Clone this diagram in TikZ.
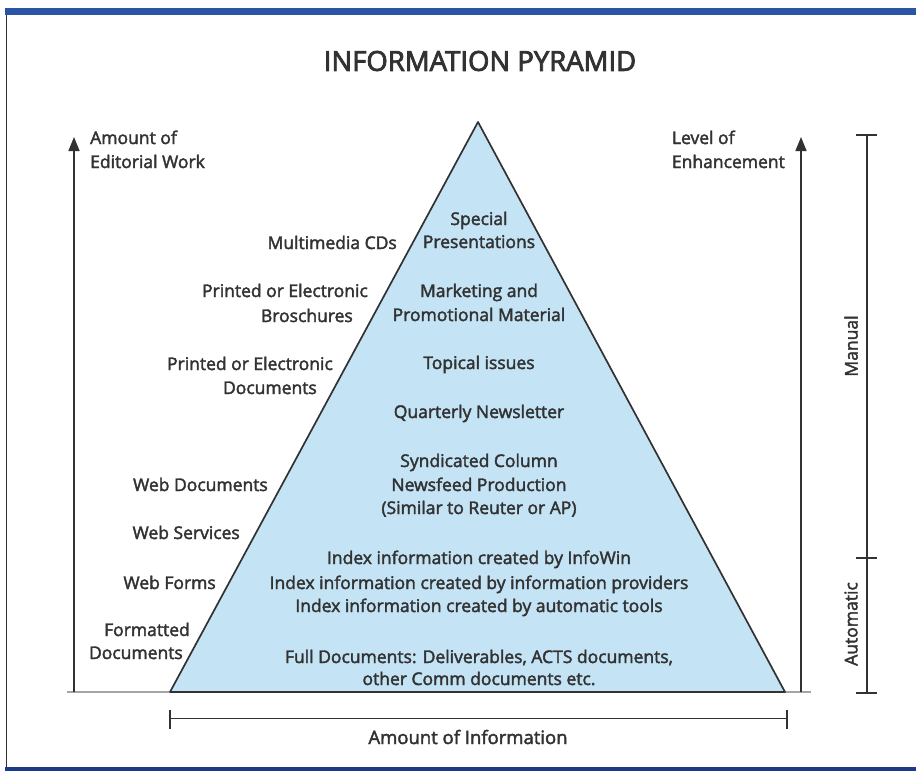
\documentclass[tikz,border=0pt]{standalone}
\usepackage{fontspec}
\setmainfont{Open Sans}
\newfontfamily\semifont[FakeBold=2.2]{Open Sans}
\newfontfamily\titfont[FakeBold=3]{Open Sans}
\usetikzlibrary{arrows.meta}
\definecolor{ink}{RGB}{50,50,50}
\definecolor{pyr}{RGB}{196,228,246}
\definecolor{barblue}{RGB}{44,84,164}
\definecolor{barblue2}{RGB}{28,58,138}
\definecolor{baseg}{RGB}{165,165,165}
\tikzset{
  lbl/.style={font=\semifont\fontsize{17.5}{21}\selectfont, text=ink, inner sep=0pt},
  inl/.style={lbl, anchor=base},
  lft/.style={lbl, anchor=base east},
  arr/.style={draw=ink, line width=1.6pt, -{Triangle[width=11pt,length=14pt]}},
  brk/.style={draw=ink, line width=1.6pt},
}
\begin{document}
\begin{tikzpicture}[x=1pt,y=-1pt]
\useasboundingbox (0,0) rectangle (916,771);
\fill[white] (0,0) rectangle (916,771);
% frame bars
\fill[barblue] (5,8) rectangle (916,15);
\fill[barblue2] (5,767) rectangle (916,771);
\draw[ink, line width=1pt] (6,15) -- (6,767);
% title
\node[lbl, font=\titfont\fontsize{27.5}{30}\selectfont] (title) at (480,61) {INFORMATION PYRAMID};
% base line and pyramid
\coordinate (gl) at (67,692);
\coordinate (gr) at (811,692);
\draw[baseg, line width=1.5pt] (gl) -- (gr);
\coordinate (apex) at (478,122);
\coordinate (bl) at (170,692);
\coordinate (br) at (785,692);
\filldraw[fill=pyr, draw=ink, line width=1.7pt, line join=round] (apex) -- (br) -- (bl) -- cycle;
% vertical arrows
\coordinate (la0) at (74,692);
\coordinate (la1) at (74,137);
\draw[arr] (la0) -- (la1);
\coordinate (ra0) at (801,692);
\coordinate (ra1) at (801,137);
\draw[arr] (ra0) -- (ra1);
% right bracket
\coordinate (rb0) at (867,135);
\coordinate (rb1) at (867,558);
\coordinate (rb2) at (867,693);
\draw[brk] (rb0) -- (rb2);
\draw[brk] ([xshift=-11pt]rb0) -- ([xshift=10pt]rb0);
\draw[brk] ([xshift=-11pt]rb1) -- ([xshift=10pt]rb1);
\draw[brk] ([xshift=-11pt]rb2) -- ([xshift=10pt]rb2);
\node[lbl, rotate=90] (manual) at (851,346) {Manual};
\node[lbl, rotate=90] (auto) at (851,624) {Automatic};
% bottom bracket
\coordinate (bb0) at (170,718.5);
\coordinate (bb1) at (787,718.5);
\draw[brk] (bb0) -- (bb1);
\draw[brk] ([yshift=9pt]bb0) -- ([yshift=-10pt]bb0);
\draw[brk] ([yshift=9pt]bb1) -- ([yshift=-10pt]bb1);
\node[lbl, anchor=base, font=\semifont\fontsize{18.5}{21}\selectfont] (amountinfo) at (468,744) {Amount of Information};
% axis captions
\node[lbl, anchor=base west] (edit1) at (90,144) {Amount of};
\node[lbl, anchor=base west] (edit2) at (90,168) {Editorial Work};
\node[lbl, anchor=base east] (enh2) at (785,168) {Enhancement};
\node[lbl, anchor=base west] (enh1) at ([yshift=24pt]enh2.base west) {Level of};
% pyramid contents
\node[inl] (p1) at (479,225) {Special};
\node[inl] (p2) at (479,248) {Presentations};
\node[inl] (p3) at (479,297) {Marketing and};
\node[inl] (p4) at (479,321) {Promotional Material};
\node[inl] (p5) at (479,369) {Topical issues};
\node[inl] (p6) at (479,418) {Quarterly Newsletter};
\node[inl] (p7) at (479,467) {Syndicated Column};
\node[inl] (p8) at (479,491) {Newsfeed Production};
\node[inl] (p9) at (479,514) {(Similar to Reuter or AP)};
\node[inl] (p10) at (479,564) {Index information created by InfoWin};
\node[inl] (p11) at (479,589) {Index information created by information providers};
\node[inl] (p12) at (479,612) {Index information created by automatic tools};
\node[inl] (p13) at (479,663) {Full Documents: Deliverables, ACTS documents,};
\node[inl] (p14) at (479,685) {other Comm documents etc.};
% left labels
\node[lft] (l1) at (397,249) {Multimedia CDs};
\node[lft] (l2) at (368,297) {Printed or Electronic};
\node[lft] (l3) at (353,322) {Broschures};
\node[lft] (l4) at (333,370) {Printed or Electronic};
\node[lft] (l5) at (317,394) {Documents};
\node[lft] (l6) at (268,491) {Web Documents};
\node[lft] (l7) at (240,539) {Web Services};
\node[lft] (l8) at (216,589) {Web Forms};
\node[lft] (l9) at (190,636) {Formatted};
\node[lft] (l10) at (183,659) {Documents};
\end{tikzpicture}
\end{document}
